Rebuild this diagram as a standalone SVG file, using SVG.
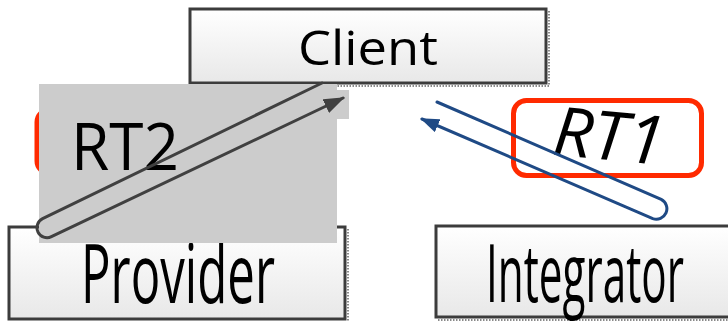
<svg xmlns="http://www.w3.org/2000/svg" width="728" height="323" viewBox="0 0 728 323">
  <defs>
    <linearGradient id="boxFill" x1="0" y1="0" x2="0" y2="1">
      <stop offset="0" stop-color="#ffffff"/>
      <stop offset="1" stop-color="#e8e8e8"/>
    </linearGradient>
    <marker id="headGrey" viewBox="0 0 21 15" refX="19" refY="7.5" markerWidth="21" markerHeight="15" markerUnits="userSpaceOnUse" orient="auto">
      <path d="M0,0 L21,7.5 L0,15 Z" fill="#404040"/>
    </marker>
    <marker id="headBlue" viewBox="0 0 19 14" refX="17" refY="7" markerWidth="19" markerHeight="14" markerUnits="userSpaceOnUse" orient="auto">
      <path d="M0,0 L19,7 L0,14 Z" fill="#1f4a85"/>
    </marker>
  </defs>
  <style>
    .box { fill: url(#boxFill); stroke: #3c3c3c; stroke-width: 3; }
    .shadow { fill: none; stroke: #8a8a8a; stroke-width: 2; stroke-dasharray: 1.5 1.5; }
    .label { font-family: "Open Sans", "Noto Sans", "DejaVu Sans", sans-serif; fill: #000; }
    .tag { fill: none; stroke: #ff2a00; stroke-width: 5; }
    .loopGrey { fill: none; stroke: #404040; stroke-width: 3; stroke-linecap: round; }
    .loopBlue { fill: none; stroke: #1f4a85; stroke-width: 3; stroke-linecap: round; }
  </style>

  <!-- Client node -->
  <g id="client">
    <path class="shadow" d="M549,11 V86 H192"/>
    <rect class="box" x="190" y="9" width="356" height="74"/>
    <text class="label" x="368" y="65" font-size="48" text-anchor="middle" textLength="140" lengthAdjust="spacingAndGlyphs">Client</text>
  </g>

  <!-- Provider node: tall, condensed label -->
  <g id="provider">
    <path class="shadow" d="M348,229 V321"/>
    <rect class="box" x="9" y="227" width="336" height="92"/>
    <text class="label" font-size="60" text-anchor="middle" textLength="194" lengthAdjust="spacingAndGlyphs" transform="translate(178 303) scale(1 1.38)">Provider</text>
  </g>

  <!-- Integrator node: tall, condensed label -->
  <g id="integrator">
    <path class="shadow" d="M438,320 H728"/>
    <rect class="box" x="436" y="226" width="300" height="91"/>
    <text class="label" font-size="60" text-anchor="middle" textLength="198" lengthAdjust="spacingAndGlyphs" transform="translate(585 302) scale(1 1.35)">Integrator</text>
  </g>

  <!-- RT2 callout: tag frame partly hidden by the grey panel -->
  <g id="rt2">
    <rect class="tag" x="37" y="110" width="190" height="63" rx="12"/>
    <rect x="39" y="84" width="298" height="159" fill="#cccccc"/>
    <rect x="337" y="90" width="12" height="29" fill="#cccccc"/>
    <text class="label" x="125" y="170" font-size="66" text-anchor="middle" textLength="108" lengthAdjust="spacingAndGlyphs">RT2</text>
  </g>

  <!-- RT1 callout -->
  <g id="rt1">
    <rect class="tag" x="513.5" y="100.5" width="188" height="75" rx="13"/>
    <text class="label" x="609" y="160" font-size="68" font-style="italic" text-anchor="middle" textLength="112" lengthAdjust="spacingAndGlyphs" transform="rotate(5.5 609 138)">RT1</text>
  </g>

  <!-- Round-trip connectors -->
  <g id="connectors">
    <path class="loopGrey" d="M322,83 L42.6,218.7 A10,10 0 0 0 51.4,236.7 L343,98" marker-end="url(#headGrey)"/>
    <path class="loopBlue" d="M437,102 L661.2,199.4 A10.5,10.5 0 0 1 652.8,218.6 L422,119" marker-end="url(#headBlue)"/>
  </g>
</svg>
